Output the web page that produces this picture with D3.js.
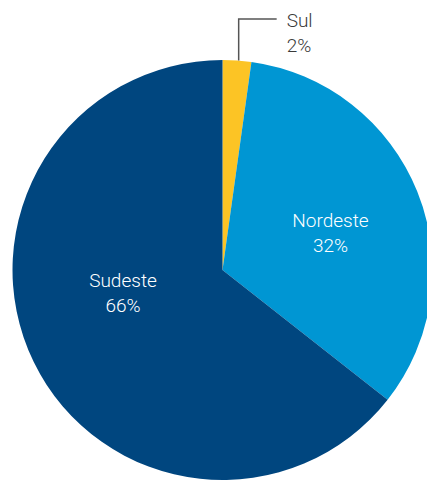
<!DOCTYPE html>
<html>
<head>
<meta charset="utf-8">
<script src="https://cdn.jsdelivr.net/npm/d3@7"></script>
<style>
  body { margin: 0; background: #fff; }
  text { font-family: Roboto, "Noto Sans", sans-serif; font-weight: 300; }
</style>
</head>
<body>
<div id="chart-area"></div>
<script>
const regions = ["Sul", "Nordeste", "Sudeste"];
const shares = [2.2, 33.4, 64.4];
const shareLabels = ["2%", "32%", "66%"];
const colors = ["#FCC425", "#0096D3", "#00467F"];

const canvas_dims = { width: 427, height: 481 };
const center = { x: 222.5, y: 270 };
const radius = 210;

const svg = d3
  .select("#chart-area")
  .append("svg")
  .attr("width", canvas_dims.width)
  .attr("height", canvas_dims.height);

const group = svg
  .append("g")
  .attr("transform", `translate(${center.x},${center.y})`);

const data = regions.map((r, i) => ({ region: r, share: shares[i], label: shareLabels[i], color: colors[i] }));

const pie = d3.pie().sort(null).value(d => d.share);
const arc = d3.arc().innerRadius(0).outerRadius(radius);
const arcs = pie(data);

group
  .selectAll("path")
  .data(arcs)
  .enter()
  .append("path")
  .attr("d", arc)
  .attr("fill", d => d.data.color);

// inside labels (Nordeste, Sudeste)
const inside = {
  Nordeste: { x: 108, y: -43.5 },
  Sudeste: { x: -99.5, y: 16.5 }
};

arcs.filter(d => inside[d.data.region]).forEach(d => {
  const p = inside[d.data.region];
  const t = group
    .append("text")
    .attr("x", p.x)
    .attr("y", p.y)
    .attr("fill", "#fff")
    .attr("font-size", "19px")
    .attr("text-anchor", "middle");
  t.append("tspan").attr("x", p.x).text(d.data.region);
  t.append("tspan").attr("x", p.x).attr("dy", 25.5).text(d.data.label);
});

// outside label with leader line (Sul)
const sul = arcs[0];
const mid = (sul.startAngle + sul.endAngle) / 2 + 0.008;
const lx = radius * Math.sin(mid);
const ly = -radius * Math.cos(mid);
const elbowY = -251;

group
  .append("path")
  .attr("d", `M${lx},${ly}V${elbowY}H${lx + 38}`)
  .attr("fill", "none")
  .attr("stroke", "#555")
  .attr("stroke-width", 1.5);

const st = group
  .append("text")
  .attr("x", lx + 48)
  .attr("y", elbowY + 8)
  .attr("fill", "#3a3a3a")
  .attr("font-size", "19px");
st.append("tspan").attr("x", lx + 48).text(sul.data.region);
st.append("tspan").attr("x", lx + 48).attr("dy", 25).text(sul.data.label);
</script>
</body>
</html>
